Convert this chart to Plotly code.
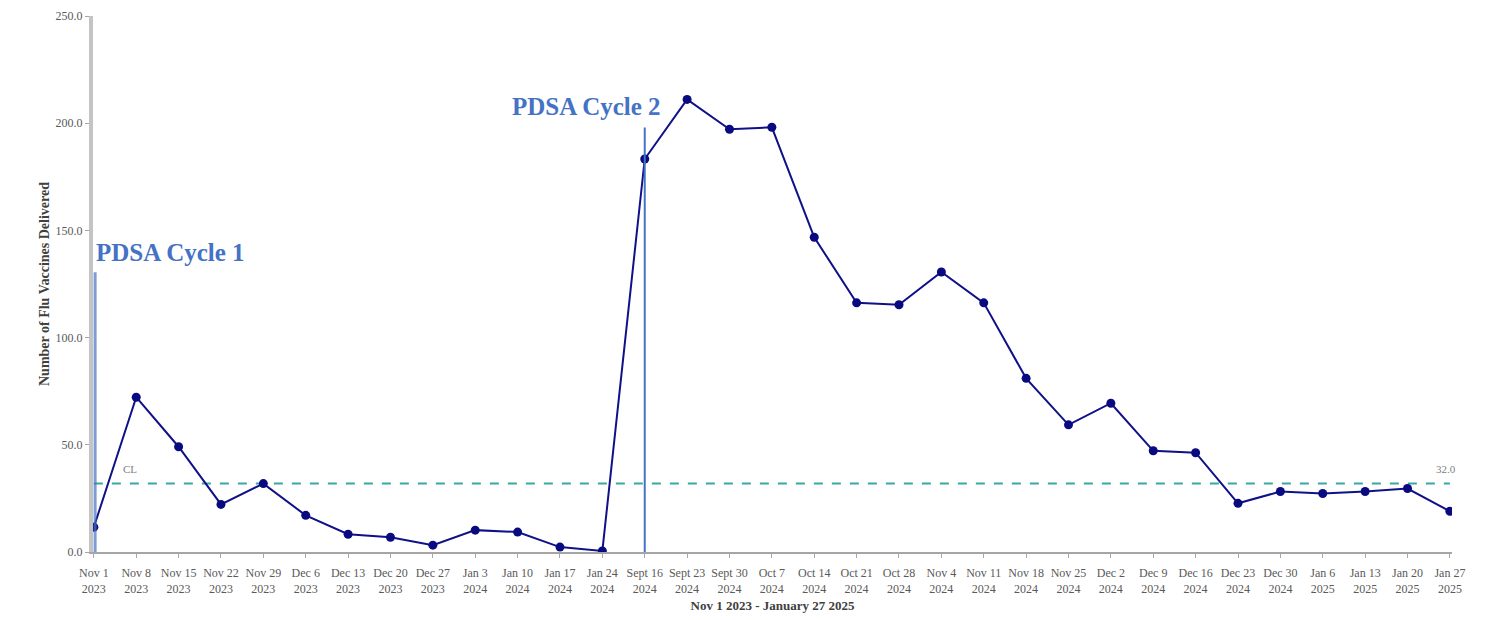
import plotly.graph_objects as go

weeks = ["Nov 1<br>2023", "Nov 8<br>2023", "Nov 15<br>2023", "Nov 22<br>2023", "Nov 29<br>2023",
         "Dec 6<br>2023", "Dec 13<br>2023", "Dec 20<br>2023", "Dec 27<br>2023", "Jan 3<br>2024",
         "Jan 10<br>2024", "Jan 17<br>2024", "Jan 24<br>2024", "Sept 16<br>2024", "Sept 23<br>2024",
         "Sept 30<br>2024", "Oct 7<br>2024", "Oct 14<br>2024", "Oct 21<br>2024", "Oct 28<br>2024",
         "Nov 4<br>2024", "Nov 11<br>2024", "Nov 18<br>2024", "Nov 25<br>2024", "Dec 2<br>2024",
         "Dec 9<br>2024", "Dec 16<br>2024", "Dec 23<br>2024", "Dec 30<br>2024", "Jan 6<br>2025",
         "Jan 13<br>2025", "Jan 20<br>2025", "Jan 27<br>2025"]
vaccines = [11.6, 72.2, 49.1, 22.2, 31.9, 17.1, 8.3, 6.9, 3.2, 10.2, 9.3, 2.3, 0.5,
            183.3, 211.1, 197.2, 198.1, 146.8, 116.2, 115.3, 130.6, 116.2, 81.0, 59.3,
            69.4, 47.2, 46.3, 22.7, 28.2, 27.3, 28.2, 29.6, 19.0]
median = 32.0
pdsa_index = [0, 13]
pdsa_labels = ["PDSA Cycle 1", "PDSA Cycle 2"]
pdsa_tops = [130.5, 198.0]
y_ticks = [0, 50, 100, 150, 200, 250]

idx = list(range(len(weeks)))
serif = "Liberation Serif"

fig = go.Figure()
fig.add_trace(go.Scatter(x=[idx[0], idx[-1]], y=[median, median], mode="lines",
                         line=dict(color="#3AA6A6", width=2, dash="dash"),
                         hoverinfo="skip", showlegend=False))
fig.add_trace(go.Scatter(x=idx, y=vaccines, mode="lines+markers",
                         line=dict(color="#101088", width=2),
                         marker=dict(color="#0A0A80", size=9, symbol="circle"),
                         showlegend=False))

colors = ["rgba(68,114,196,0.7)", "#4472C4"]
for i, (xi, top) in enumerate(zip(pdsa_index, pdsa_tops)):
    fig.add_shape(type="line", x0=xi + (0.03 if i == 0 else 0), x1=xi + (0.03 if i == 0 else 0),
                  y0=-2, y1=top, xref="x", yref="y",
                  line=dict(color=colors[i], width=2 if i == 1 else 3))

fig.add_annotation(x=0.0, y=139.5, xref="x", yref="y", text="<b>" + pdsa_labels[0] + "</b>",
                   showarrow=False, xanchor="left", yanchor="middle",
                   font=dict(family=serif, size=25, color="#4472C4"))
fig.add_annotation(x=13.42, y=208, xref="x", yref="y", text="<b>" + pdsa_labels[1] + "</b>",
                   showarrow=False, xanchor="right", yanchor="middle",
                   font=dict(family=serif, size=25, color="#4472C4"))
fig.add_annotation(x=0.85, y=median + 3, xref="x", yref="y", text="CL",
                   showarrow=False, xanchor="center", yanchor="bottom",
                   font=dict(family=serif, size=11, color="#808080"))
fig.add_annotation(x=31.9, y=median + 3, xref="x", yref="y", text="32.0",
                   showarrow=False, xanchor="center", yanchor="bottom",
                   font=dict(family=serif, size=11, color="#808080"))

fig.update_layout(
    width=1486, height=620,
    margin=dict(l=85, r=42, t=8, b=76, autoexpand=False),
    paper_bgcolor="white", plot_bgcolor="white",
    font=dict(family=serif, size=11, color="#595959"),
    xaxis=dict(range=[-0.02, 32.05], tickmode="array", tickvals=idx, ticktext=weeks,
               showline=True, linecolor="#A6A6A6", linewidth=2, showgrid=False,
               zeroline=False, ticks="outside", ticklen=4, tickcolor="#A6A6A6",
               tickangle=0, automargin=False, ticklabelstandoff=5,
               tickfont=dict(size=12, color="#595959"),
               title=dict(text="<b>Nov 1 2023 - January 27 2025</b>", standoff=6,
                          font=dict(size=13, color="#404040"))),
    yaxis=dict(range=[0, 250], tickmode="array", tickvals=y_ticks,
               ticktext=[f"{v:.1f}" for v in y_ticks],
               showline=True, linecolor="#C4C4C4", linewidth=4, showgrid=False,
               zeroline=False, ticks="outside", ticklen=4, tickcolor="#A6A6A6",
               automargin=False, ticklabeloverflow="allow",
               tickfont=dict(size=12, color="#595959"),
               title=dict(text="<b>Number of Flu Vaccines Delivered</b>", standoff=4,
                          font=dict(size=14, color="#404040"))),
)

fig.write_html("out.html")
